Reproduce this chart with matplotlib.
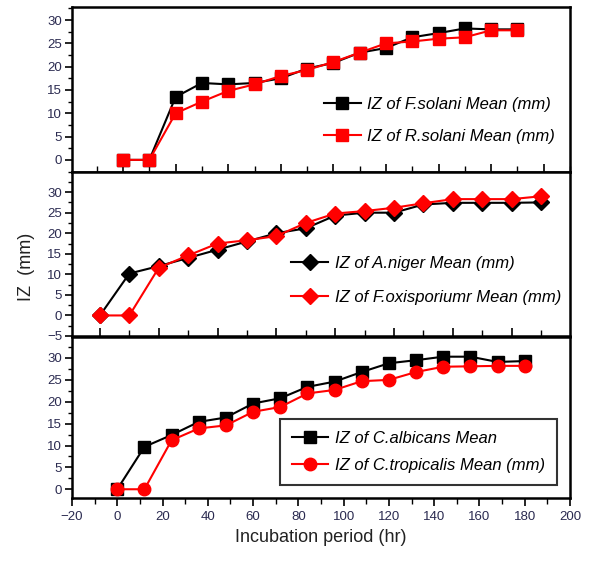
import matplotlib
matplotlib.use("Agg")
import matplotlib.pyplot as plt
from matplotlib.ticker import MultipleLocator

plt.rcParams['font.family'] = ['Liberation Sans', 'DejaVu Sans']

hours = [0, 12, 24, 36, 48, 60, 72, 84, 96, 108, 120, 132, 144, 156, 168, 180]

# top panel
f_solani = [0, 0, 13.5, 16.5, 16.2, 16.5, 17.5, 19.6, 20.8, 23, 24, 26.3, 27.2, 28.2, 28, 28]
r_solani = [0, 0, 10, 12.5, 14.8, 16.2, 18, 19.3, 21, 23, 25, 25.4, 26, 26.3, 27.8, 27.8]
# middle panel
a_niger = [0, 10.2, 12, 14, 16, 18, 20, 21.2, 24.3, 25, 25, 27, 27.4, 27.4, 27.4, 27.5]
f_oxis = [0, 0, 11.6, 14.6, 17.5, 18.3, 19.3, 22.5, 24.8, 25.4, 26.2, 27.3, 28.3, 28.3, 28.3, 29]
# bottom panel
c_albicans = [0, 9.7, 12.4, 15.4, 16.4, 19.6, 20.8, 23.4, 24.6, 26.8, 28.8, 29.5, 30.3, 30.3, 29.1, 29.3]
c_tropicalis = [0, 0, 11.2, 13.9, 14.6, 17.7, 18.8, 21.9, 22.7, 24.7, 25, 26.8, 28, 28.1, 28.2, 28.2]

labels_top = ['IZ of F.solani Mean (mm)', 'IZ of R.solani Mean (mm)']
labels_mid = ['IZ of A.niger Mean (mm)', 'IZ of F.oxisporiumr Mean (mm)']
labels_bot = ['IZ of C.albicans Mean', 'IZ of C.tropicalis Mean (mm)']

tick_color = '#2a2a50'

fig = plt.figure(figsize=(5.89, 5.76), dpi=100)
L, W = 72 / 589, (570 - 72) / 589

ax1 = fig.add_axes([L, 1 - 172 / 576, W, 165 / 576])
ax2 = fig.add_axes([L, 1 - 336 / 576, W, 164 / 576])
ax3 = fig.add_axes([L, 1 - 498 / 576, W, 161 / 576])


def style(ax, xlim, ylim, bottom_labels=False):
    ax.set_xlim(*xlim)
    ax.set_ylim(*ylim)
    for s in ax.spines.values():
        s.set_linewidth(1.8)
    ax.yaxis.set_major_locator(MultipleLocator(5))
    ax.yaxis.set_minor_locator(MultipleLocator(2.5))
    ax.tick_params(axis='y', which='major', direction='out', length=5, width=1.2,
                   labelsize=9.5, labelcolor=tick_color, pad=2)
    ax.tick_params(axis='y', which='minor', direction='out', length=3, width=1)
    if bottom_labels:
        ax.xaxis.set_major_locator(MultipleLocator(20))
        ax.xaxis.set_minor_locator(MultipleLocator(10))
        ax.tick_params(axis='x', which='major', direction='out', length=6, width=1.2,
                       labelsize=9.5, labelcolor=tick_color)
        ax.tick_params(axis='x', which='minor', direction='out', length=4, width=1)
    else:
        ax.xaxis.set_major_locator(MultipleLocator(24))
        ax.xaxis.set_minor_locator(MultipleLocator(12))
        ax.tick_params(axis='x', which='major', direction='in', length=6, width=1.2,
                       labelbottom=False)
        ax.tick_params(axis='x', which='minor', direction='in', length=4, width=1)


leg_kw = dict(prop={'style': 'italic', 'size': 12}, handlelength=2.2,
              handletextpad=0.4)

ax1.plot(hours, f_solani, '-s', color='black', lw=1.5, ms=8, label=labels_top[0])
ax1.plot(hours, r_solani, '-s', color='red', lw=1.5, ms=9, label=labels_top[1])
style(ax1, (-23.3, 204), (-2.6, 32.8))
ax1.legend(loc='lower right', frameon=False, labelspacing=1.0,
           bbox_to_anchor=(1.0, 0.08), **leg_kw)

ax2.plot(hours, a_niger, '-D', color='black', lw=1.5, ms=8, label=labels_mid[0])
ax2.plot(hours, f_oxis, '-D', color='red', lw=1.5, ms=8, label=labels_mid[1])
style(ax2, (-11.4, 191.8), (-5, 34.9))
ax2.legend(loc='lower left', frameon=False, labelspacing=1.1,
           bbox_to_anchor=(0.41, 0.1), **leg_kw)

ax3.plot(hours, c_albicans, '-s', color='black', lw=1.5, ms=8, label=labels_bot[0])
ax3.plot(hours, c_tropicalis, '-o', color='red', lw=1.5, ms=9, label=labels_bot[1])
style(ax3, (-20, 200), (-2, 34.8), bottom_labels=True)
leg = ax3.legend(loc='lower right', frameon=True, fancybox=False, edgecolor='black',
                 labelspacing=0.75, borderpad=0.7, bbox_to_anchor=(0.99, 0.03),
                 **leg_kw)
leg.get_frame().set_linewidth(1.5)

fig.text(0.045, 1 - 267 / 576, 'IZ  (mm)', rotation=90, ha='center', va='center',
         fontsize=13, color='#222222')
ax3.set_xlabel('Incubation period (hr)', fontsize=13, color='#222222', labelpad=4)

fig.savefig('out.png', dpi=100)
